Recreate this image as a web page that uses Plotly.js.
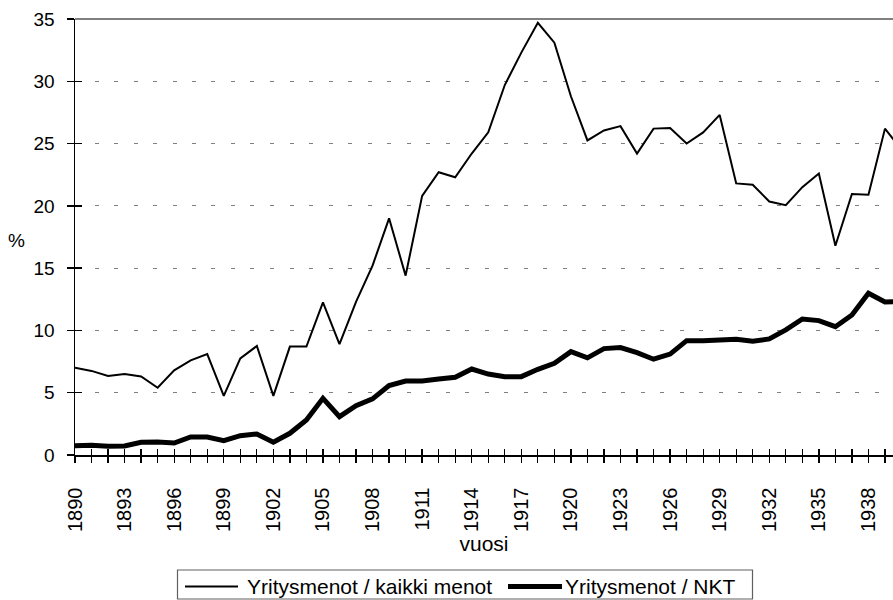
<!DOCTYPE html>
<html>
<head>
<meta charset="utf-8">
<script src="https://cdn.plot.ly/plotly-3.0.1.min.js"></script>
<style>html,body{margin:0;padding:0;background:#fff;overflow:hidden;}#chart{width:893px;height:600px;}</style>
</head>
<body>
<div id="chart"></div>
<script>
const years = [1890,1891,1892,1893,1894,1895,1896,1897,1898,1899,1900,1901,1902,1903,1904,1905,1906,1907,1908,1909,1910,1911,1912,1913,1914,1915,1916,1917,1918,1919,1920,1921,1922,1923,1924,1925,1926,1927,1928,1929,1930,1931,1932,1933,1934,1935,1936,1937,1938,1939,1940];
const kaikkiMenot = [7.0,6.75,6.35,6.5,6.3,5.4,6.8,7.6,8.1,4.75,7.75,8.75,4.75,8.7,8.7,12.25,8.9,12.3,15.2,19.0,14.4,20.8,22.7,22.3,24.2,25.9,29.7,32.3,34.7,33.1,28.8,25.25,26.05,26.4,24.2,26.2,26.25,25.0,25.9,27.3,21.8,21.7,20.35,20.05,21.5,22.6,16.8,20.95,20.9,26.2,24.5];
const nkt = [0.75,0.78,0.7,0.72,1.02,1.05,0.96,1.45,1.45,1.15,1.55,1.69,1.02,1.74,2.81,4.55,3.08,3.96,4.5,5.57,5.94,5.94,6.1,6.24,6.9,6.5,6.29,6.29,6.88,7.36,8.3,7.8,8.54,8.62,8.22,7.69,8.1,9.18,9.18,9.26,9.29,9.13,9.32,10.04,10.92,10.79,10.3,11.24,12.99,12.29,12.3];
const xTickLabels = ['1890','1893','1896','1899','1902','1905','1908','1911','1914','1917','1920','1923','1926','1929','1932','1935','1938'];
const seriesNames = ['Yritysmenot / kaikki menot','Yritysmenot / NKT'];
const xTitle = 'vuosi';
const yTitle = '%';

const tickVals = years;
const tickText = years.map(y => xTickLabels.includes(String(y)) ? String(y) : '');

const FONT = 'Liberation Sans, Arial, sans-serif';
const xRange = [1890, 1939.485];

const traces = [
  {x: years, y: nkt, type: 'scatter', mode: 'lines', name: seriesNames[1],
   line: {color: '#000', width: 5}, showlegend: false, hoverinfo: 'x+y'},
  {x: years, y: kaikkiMenot, type: 'scatter', mode: 'lines', name: seriesNames[0],
   xaxis: 'x2', yaxis: 'y2',
   line: {color: '#000', width: 2}, showlegend: false, hoverinfo: 'x+y'}
];

// paper coords helpers (plot area: x 75..893, y 19..455)
const px = v => (v - 75) / 818;
const py = v => (455 - v) / 436;

const layout = {
  width: 893, height: 600,
  margin: {l: 75, r: 0, t: 19, b: 145, pad: 0},
  paper_bgcolor: '#fff', plot_bgcolor: '#fff',
  font: {family: FONT, color: '#000'},
  showlegend: false,
  xaxis: {
    range: xRange, tickmode: 'array', tickvals: tickVals, ticktext: tickText,
    tickangle: -90, ticks: 'outside', ticklen: 6, tickwidth: 1.3, tickcolor: '#000',
    showline: true, linecolor: '#000', linewidth: 1.5,
    showgrid: false, zeroline: false, automargin: false,
    tickfont: {family: FONT, size: 20, color: '#000'},
    ticklabelstandoff: 17,
    title: {text: xTitle, font: {family: FONT, size: 21, color: '#000'}, standoff: 0}
  },
  xaxis2: {
    range: xRange, overlaying: 'x', anchor: 'y2', side: 'bottom', dtick: 1, tick0: 1890,
    ticks: 'inside', ticklen: 6, tickwidth: 1.3, tickcolor: '#000',
    showticklabels: false, showgrid: false, zeroline: false, showline: false, automargin: false
  },
  yaxis: {
    range: [0, 35], dtick: 5, tick0: 0, ticks: 'outside', ticklen: 7, tickwidth: 1.3, tickcolor: '#000',
    showline: true, linecolor: '#000', linewidth: 1.5,
    showgrid: true, gridcolor: '#808080', gridwidth: 1, griddash: '4px,15.5px',
    zeroline: false, automargin: false,
    tickfont: {family: FONT, size: 19, color: '#000'},
    ticklabelstandoff: 8
  },
  yaxis2: {
    range: [0, 35], overlaying: 'y', anchor: 'x2', side: 'left', dtick: 5, tick0: 0,
    ticks: 'inside', ticklen: 7, tickwidth: 1.3, tickcolor: '#000',
    showticklabels: false, showgrid: false, zeroline: false, showline: false, automargin: false
  },
  shapes: [
    {type: 'line', xref: 'paper', yref: 'paper', x0: 0, x1: 1, y0: 1, y1: 1,
     line: {color: '#808080', width: 2}},
    {type: 'rect', xref: 'paper', yref: 'paper', x0: px(177.5), x1: px(752.5), y0: py(570), y1: py(599),
     line: {color: '#606060', width: 1.2}, fillcolor: 'rgba(0,0,0,0)'},
    {type: 'line', xref: 'paper', yref: 'paper', x0: px(185), x1: px(238), y0: py(586.5), y1: py(586.5),
     line: {color: '#000', width: 2}},
    {type: 'line', xref: 'paper', yref: 'paper', x0: px(508), x1: px(562), y0: py(586.5), y1: py(586.5),
     line: {color: '#000', width: 5}}
  ],
  annotations: [
    {text: yTitle, xref: 'paper', yref: 'paper', x: px(16), y: py(240), xanchor: 'center', yanchor: 'middle',
     showarrow: false, font: {family: FONT, size: 19, color: '#000'}},
    {text: seriesNames[0], xref: 'paper', yref: 'paper', x: px(245), y: py(586), xanchor: 'left', yanchor: 'middle',
     showarrow: false, font: {family: FONT, size: 21, color: '#000'}},
    {text: seriesNames[1], xref: 'paper', yref: 'paper', x: px(563), y: py(586), xanchor: 'left', yanchor: 'middle',
     showarrow: false, font: {family: FONT, size: 21, color: '#000'}}
  ]
};

Plotly.newPlot('chart', traces, layout, {displayModeBar: false, staticPlot: true});
</script>
</body>
</html>
